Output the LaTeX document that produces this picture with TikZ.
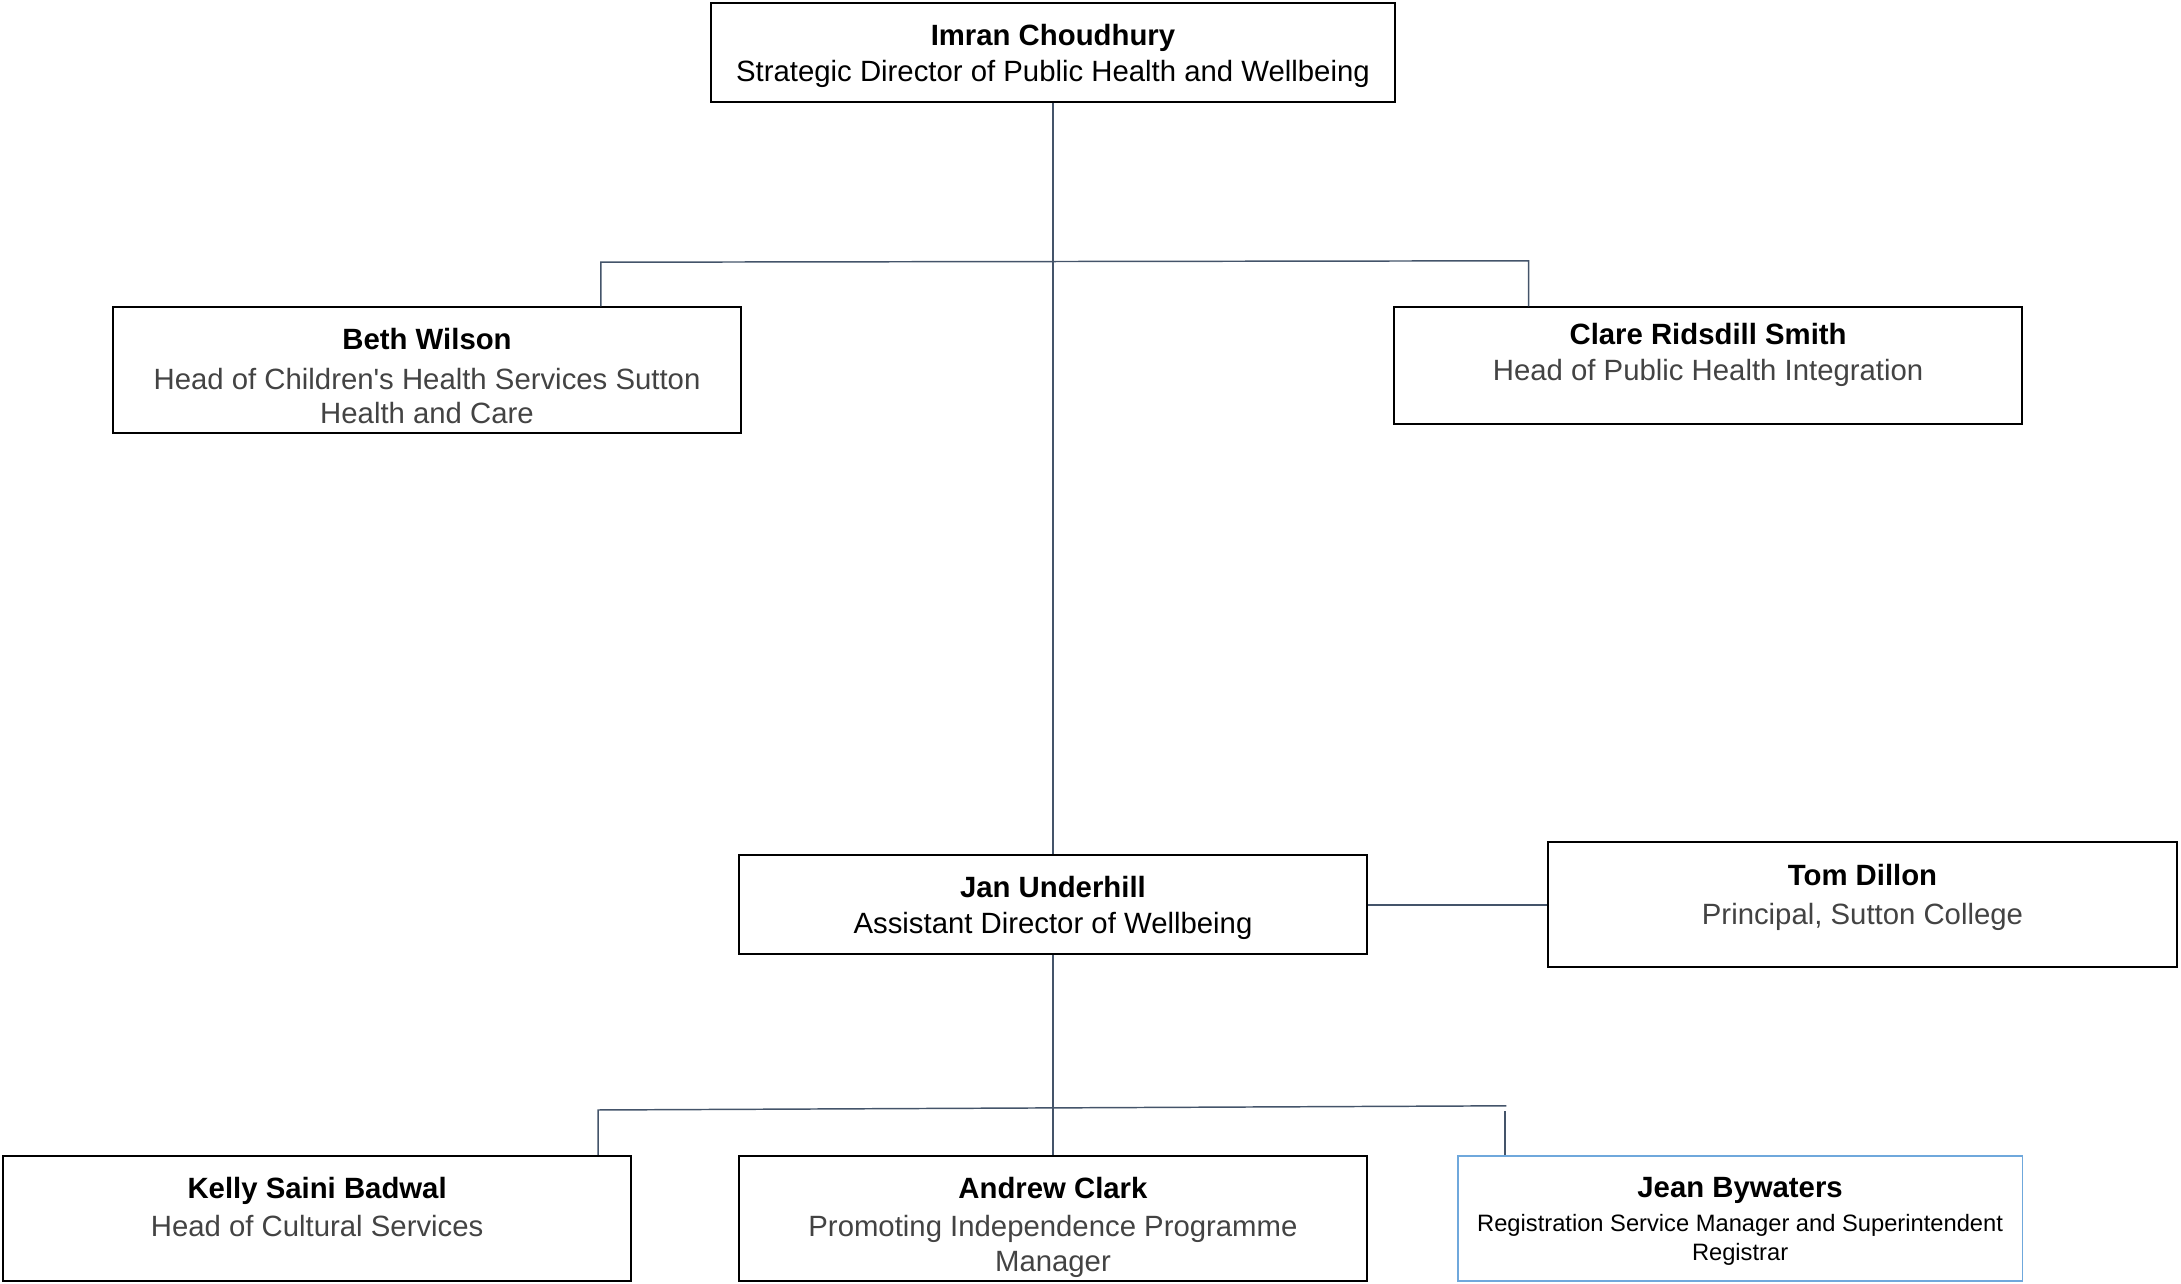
\documentclass[tikz,border=0pt]{standalone}
\usepackage{fontspec}
\setmainfont{Liberation Sans}
\usetikzlibrary{positioning}
\definecolor{linkgrey}{RGB}{68,84,106}
\definecolor{roletxt}{RGB}{67,67,67}
\definecolor{regblue}{RGB}{111,168,220}
\newcommand{\pname}[1]{\textbf{#1}}
\newcommand{\smallrole}{\fontsize{9.7}{11.4}\selectfont}

\begin{document}
\begin{tikzpicture}[x=0.02cm, y=-0.02cm, font=\fontsize{12}{14}\selectfont,
    box/.style={draw, line width=0.8pt, minimum width=9.04cm, minimum height=1.8cm, inner sep=0pt},
    txt/.style={align=center, inner sep=0pt},
    conn/.style={draw=linkgrey, line width=0.6pt}]
  \useasboundingbox (0,0) rectangle (1568,923);
  % boxes
  \node[box, minimum width=9.84cm, minimum height=1.42cm] (imran) at (757,37.5) {};
  \node[box] (beth) at (307,266) {};
  \node[box, minimum height=1.68cm] (clare) at (1228,263) {};
  \node[box, minimum height=1.42cm] (jan) at (757,650.5) {};
  \node[box] (tom) at (1339,650) {};
  \node[box] (kelly) at (228,876) {};
  \node[box] (andrew) at (757,876) {};
  \node[box, draw=regblue, line width=0.7pt, minimum width=8.12cm] (jean) at (1251,876) {};
  % texts
  \node[txt, below=0.31cm of imran.north] (imrantxt) {\pname{Imran Choudhury}\\[0.7pt] Strategic Director of Public Health and Wellbeing};
  \node[txt, below=0.31cm of beth.north] (bethtxt) {\pname{Beth Wilson}\\[2.2pt] \textcolor{roletxt}{Head of Children\textquotesingle s Health Services Sutton}\\ \textcolor{roletxt}{Health and Care}};
  \node[txt, below=0.23cm of clare.north] (claretxt) {\pname{Clare Ridsdill Smith}\\[0.7pt] \textcolor{roletxt}{Head of Public Health Integration}};
  \node[txt, below=0.31cm of jan.north] (jantxt) {\pname{Jan Underhill}\\[0.7pt] Assistant Director of Wellbeing};
  \node[txt, below=0.33cm of tom.north] (tomtxt) {\pname{Tom Dillon}\\[2.2pt] \textcolor{roletxt}{Principal, Sutton College}};
  \node[txt, below=0.31cm of kelly.north] (kellytxt) {\pname{Kelly Saini Badwal}\\[1.8pt] \textcolor{roletxt}{Head of Cultural Services}};
  \node[txt, below=0.31cm of andrew.north] (andrewtxt) {\pname{Andrew Clark}\\[1.8pt] \textcolor{roletxt}{Promoting Independence Programme}\\ \textcolor{roletxt}{Manager}};
  \node[txt, below=0.31cm of jean.north] (jeantxt) {\pname{Jean Bywaters}\\[0.2pt] \smallrole Registration Service Manager and Superintendent\\[-2.2pt] \smallrole Registrar};
  % connectors
  \coordinate (tl) at (432,188.5);
  \coordinate (tr) at (1099,187.5);
  \coordinate (bl) at (430,798);
  \coordinate (br) at (1083,795);
  \coordinate (bj) at (1082,799);
  \draw[conn] (imran.south) -- (jan.north);
  \draw[conn] (tl |- beth.north) -- (tl) -- (tr) -- (tr |- clare.north);
  \draw[conn] (jan.east) -- (jan.east -| tom.west);
  \draw[conn] (jan.south) -- (andrew.north);
  \draw[conn] (bl |- kelly.north) -- (bl) -- (br);
  \draw[conn] (bj) -- (bj |- jean.north);
\end{tikzpicture}
\end{document}
